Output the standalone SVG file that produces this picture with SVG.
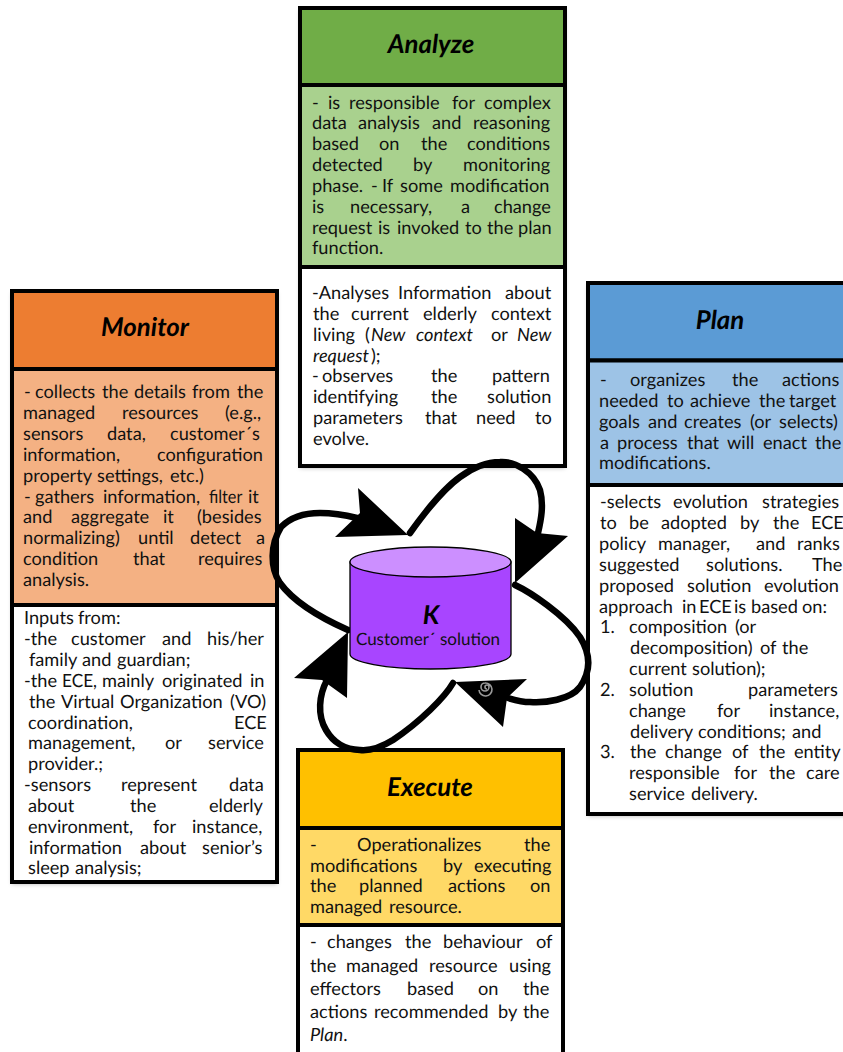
<svg xmlns="http://www.w3.org/2000/svg" width="843" height="1052" viewBox="0 0 843 1052">
<style>
text{font-family:"Lato","Carlito","Noto Sans",sans-serif;font-size:18.2px;fill:#111;text-rendering:geometricPrecision}
.t{font-size:25.8px;font-weight:700;font-style:italic;text-anchor:middle;fill:#000}
.i{font-style:italic}
.box{stroke:#000;stroke-width:4}
.wire{fill:none;stroke:#000;stroke-width:6.500;stroke-linecap:round}
.head{fill:#000}
</style>
<defs><filter id="sh" x="-5%" y="-5%" width="110%" height="110%"><feDropShadow dx="0" dy="2" stdDeviation="2" flood-color="#000" flood-opacity=".3"/></filter></defs>
<rect width="843" height="1052" fill="#fff"/>
<g id="analyze">
<rect x="300" y="8" width="265" height="458" fill="#fff" filter="url(#sh)"/>
<rect class="box" x="300" y="8" width="265" height="77" fill="#70ad47"/>
<rect class="box" x="300" y="85" width="265" height="182" fill="#a9d18e"/>
<rect class="box" x="300" y="267" width="265" height="199" fill="#fff"/>
<text class="t" x="431" y="53">Analyze</text>
<text y="108.500"><tspan x="312">-</tspan> <tspan x="328">is</tspan> <tspan x="349">responsible</tspan> <tspan x="452">for</tspan> <tspan x="484">complex</tspan></text>
<text y="129.300"><tspan x="312">data</tspan> <tspan x="358">analysis</tspan> <tspan x="432">and</tspan> <tspan x="473">reasoning</tspan></text>
<text y="150.200"><tspan x="312">based</tspan> <tspan x="379">on</tspan> <tspan x="421">the</tspan> <tspan x="467">conditions</tspan></text>
<text y="171"><tspan x="312">detected</tspan> <tspan x="413">by</tspan> <tspan x="463">monitoring</tspan></text>
<text y="191.800"><tspan x="312">phase.</tspan> <tspan x="371">-</tspan> <tspan x="382">If</tspan> <tspan x="400">some</tspan> <tspan x="450">modification</tspan></text>
<text y="212.700"><tspan x="312">is</tspan> <tspan x="350">necessary,</tspan> <tspan x="461">a</tspan> <tspan x="494">change</tspan></text>
<text y="233.500"><tspan x="312">request</tspan> <tspan x="378">is</tspan> <tspan x="397">invoked</tspan> <tspan x="465">to</tspan> <tspan x="487">the</tspan> <tspan x="518">plan</tspan></text>
<text y="254.300" x="312">function.</text>
<text y="299"><tspan x="312">-Analyses</tspan> <tspan x="398">Information</tspan> <tspan x="505">about</tspan></text>
<text y="319.800"><tspan x="313">the</tspan> <tspan x="351">current</tspan> <tspan x="423">elderly</tspan> <tspan x="491">context</tspan></text>
<text y="340.700"><tspan x="313">living</tspan> <tspan x="365">(</tspan><tspan class="i" x="371">New</tspan> <tspan class="i" x="416">context</tspan> <tspan x="491">or</tspan> <tspan class="i" x="517">New</tspan></text>
<text y="361.500"><tspan class="i" x="313">request</tspan><tspan x="371">);</tspan></text>
<text y="382.300"><tspan x="312">-</tspan> <tspan x="322">observes</tspan> <tspan x="431">the</tspan> <tspan x="492">pattern</tspan></text>
<text y="403.200"><tspan x="313">identifying</tspan> <tspan x="431">the</tspan> <tspan x="487">solution</tspan></text>
<text y="424"><tspan x="313">parameters</tspan> <tspan x="425">that</tspan> <tspan x="476">need</tspan> <tspan x="535">to</tspan></text>
<text y="444.800" x="313">evolve.</text>
</g>
<g id="monitor">
<rect x="12" y="291" width="265" height="591" fill="#fff" filter="url(#sh)"/>
<rect class="box" x="12" y="291" width="265" height="78" fill="#ed7d31"/>
<rect class="box" x="12" y="369" width="265" height="236" fill="#f4b183"/>
<rect class="box" x="12" y="605" width="265" height="277" fill="#fff"/>
<text class="t" x="145" y="336">Monitor</text>
<text y="398.300"><tspan x="24">-</tspan> <tspan x="35">collects</tspan> <tspan x="102">the</tspan> <tspan x="134">details</tspan> <tspan x="192">from</tspan> <tspan x="237">the</tspan></text>
<text y="419.100"><tspan x="23">managed</tspan> <tspan x="122">resources</tspan> <tspan x="225">(e.g.,</tspan></text>
<text y="440"><tspan x="23">sensors</tspan> <tspan x="107">data,</tspan> <tspan x="170">customer´s</tspan></text>
<text y="460.800"><tspan x="23">information,</tspan> <tspan x="157">configuration</tspan></text>
<text y="481.600"><tspan x="23">property</tspan> <tspan x="97">settings,</tspan> <tspan x="170">etc.)</tspan></text>
<text y="502.500"><tspan x="24">-</tspan> <tspan x="35">gathers</tspan> <tspan x="103">information,</tspan> <tspan x="209" textLength="33" lengthAdjust="spacingAndGlyphs">filter</tspan> <tspan x="248">it</tspan></text>
<text y="523.300"><tspan x="23">and</tspan> <tspan x="71">aggregate</tspan> <tspan x="163">it</tspan> <tspan x="197">(besides</tspan></text>
<text y="544.100"><tspan x="23">normalizing)</tspan> <tspan x="138">until</tspan> <tspan x="190">detect</tspan> <tspan x="256">a</tspan></text>
<text y="565"><tspan x="23">condition</tspan> <tspan x="133">that</tspan> <tspan x="198">requires</tspan></text>
<text y="585.800" x="23">analysis.</text>
<text y="624.300"><tspan x="24">Inputs</tspan> <tspan x="78">from:</tspan></text>
<text y="645.100"><tspan x="24">-the</tspan> <tspan x="71">customer</tspan> <tspan x="162">and</tspan> <tspan x="207">his/her</tspan></text>
<text y="666"><tspan x="29">family</tspan> <tspan x="82">and</tspan> <tspan x="117">guardian;</tspan></text>
<text y="686.800"><tspan x="24">-the</tspan> <tspan x="62" textLength="35" lengthAdjust="spacingAndGlyphs">ECE,</tspan> <tspan x="102">mainly</tspan> <tspan x="162">originated</tspan> <tspan x="250">in</tspan></text>
<text y="707.600"><tspan x="29">the</tspan> <tspan x="61">Virtual</tspan> <tspan x="120">Organization</tspan> <tspan x="230">(VO)</tspan></text>
<text y="728.500"><tspan x="28">coordination,</tspan> <tspan x="234">ECE</tspan></text>
<text y="749.300"><tspan x="28">management,</tspan> <tspan x="165">or</tspan> <tspan x="208">service</tspan></text>
<text y="770.100" x="28">provider.;</text>
<text y="791"><tspan x="24">-sensors</tspan> <tspan x="121">represent</tspan> <tspan x="229">data</tspan></text>
<text y="811.800"><tspan x="28">about</tspan> <tspan x="130">the</tspan> <tspan x="209">elderly</tspan></text>
<text y="832.600"><tspan x="28">environment,</tspan> <tspan x="153">for</tspan> <tspan x="192">instance,</tspan></text>
<text y="853.500"><tspan x="29">information</tspan> <tspan x="140">about</tspan> <tspan x="202">senior’s</tspan></text>
<text y="874.300"><tspan x="28">sleep</tspan> <tspan x="75">analysis;</tspan></text>
</g>
<g id="plan">
<rect x="588" y="283" width="270" height="531" fill="#fff" filter="url(#sh)"/>
<rect class="box" x="588" y="283" width="270" height="77.500" fill="#5b9bd5"/>
<rect class="box" x="588" y="360.500" width="270" height="124.500" fill="#9dc3e6"/>
<rect class="box" x="588" y="485" width="270" height="329" fill="#fff"/>
<text class="t" x="720" y="329">Plan</text>
<text y="386"><tspan x="600">-</tspan> <tspan x="630">organizes</tspan> <tspan x="732">the</tspan> <tspan x="782">actions</tspan></text>
<text y="406.800"><tspan x="599">needed</tspan> <tspan x="667">to</tspan> <tspan x="690">achieve</tspan> <tspan x="759">the</tspan> <tspan x="789">target</tspan></text>
<text y="427.700"><tspan x="599">goals</tspan> <tspan x="648">and</tspan> <tspan x="684">creates</tspan> <tspan x="750">(or</tspan> <tspan x="779">selects)</tspan></text>
<text y="448.500"><tspan x="600">a</tspan> <tspan x="617">process</tspan> <tspan x="687">that</tspan> <tspan x="727">will</tspan> <tspan x="763">enact</tspan> <tspan x="815">the</tspan></text>
<text y="469.300" x="599">modifications.</text>
<text y="508.300"><tspan x="600">-selects</tspan> <tspan x="673">evolution</tspan> <tspan x="762">strategies</tspan></text>
<text y="529.100"><tspan x="600">to</tspan> <tspan x="629">be</tspan> <tspan x="661">adopted</tspan> <tspan x="740">by</tspan> <tspan x="773">the</tspan> <tspan x="811">ECE</tspan></text>
<text y="550"><tspan x="599">policy</tspan> <tspan x="658">manager,</tspan> <tspan x="756">and</tspan> <tspan x="797">ranks</tspan></text>
<text y="570.800"><tspan x="599">suggested</tspan> <tspan x="706">solutions.</tspan> <tspan x="812">The</tspan></text>
<text y="591.600"><tspan x="599">proposed</tspan> <tspan x="687">solution</tspan> <tspan x="764">evolution</tspan></text>
<text y="612.500"><tspan x="599">approach</tspan> <tspan x="682">in</tspan> <tspan x="699">ECE</tspan> <tspan x="734">is</tspan> <tspan x="751">based</tspan> <tspan x="802">on:</tspan></text>
<text y="633.300"><tspan x="600">1.</tspan> <tspan x="629">composition</tspan> <tspan x="735">(or</tspan></text>
<text y="654.100"><tspan x="630">decomposition)</tspan> <tspan x="760">of</tspan> <tspan x="782">the</tspan></text>
<text y="675"><tspan x="629">current</tspan> <tspan x="692">solution);</tspan></text>
<text y="695.800"><tspan x="600">2.</tspan> <tspan x="629">solution</tspan> <tspan x="748">parameters</tspan></text>
<text y="716.600"><tspan x="629">change</tspan> <tspan x="717">for</tspan> <tspan x="769">instance,</tspan></text>
<text y="737.500"><tspan x="630">delivery</tspan> <tspan x="698">conditions;</tspan> <tspan x="792">and</tspan></text>
<text y="758.300"><tspan x="600">3.</tspan> <tspan x="630">the</tspan> <tspan x="665">change</tspan> <tspan x="732">of</tspan> <tspan x="759">the</tspan> <tspan x="794">entity</tspan></text>
<text y="779.100"><tspan x="629">responsible</tspan> <tspan x="734">for</tspan> <tspan x="769">the</tspan> <tspan x="806">care</tspan></text>
<text y="800"><tspan x="629">service</tspan> <tspan x="691">delivery.</tspan></text>
</g>
<g id="execute">
<rect class="box" x="298" y="750" width="265" height="78" fill="#ffc000"/>
<rect class="box" x="298" y="828" width="265" height="97" fill="#ffd966"/>
<rect class="box" x="298" y="925" width="265" height="135" fill="#fff"/>
<text class="t" x="430" y="796">Execute</text>
<text y="850.700"><tspan x="310">-</tspan> <tspan x="357">Operationalizes</tspan> <tspan x="524">the</tspan></text>
<text y="871.500"><tspan x="310">modifications</tspan> <tspan x="443">by</tspan> <tspan x="474">executing</tspan></text>
<text y="892.300"><tspan x="310">the</tspan> <tspan x="359">planned</tspan> <tspan x="448">actions</tspan> <tspan x="530">on</tspan></text>
<text y="913.200"><tspan x="310">managed</tspan> <tspan x="389">resource.</tspan></text>
<text y="948.300"><tspan x="310">-</tspan> <tspan x="327">changes</tspan> <tspan x="405">the</tspan> <tspan x="443">behaviour</tspan> <tspan x="536">of</tspan></text>
<text y="971.700"><tspan x="310">the</tspan> <tspan x="346">managed</tspan> <tspan x="429">resource</tspan> <tspan x="509">using</tspan></text>
<text y="995"><tspan x="310">effectors</tspan> <tspan x="407">based</tspan> <tspan x="478">on</tspan> <tspan x="523">the</tspan></text>
<text y="1017.700"><tspan x="310">actions</tspan> <tspan x="374">recommended</tspan> <tspan x="498">by</tspan> <tspan x="523">the</tspan></text>
<text y="1041"><tspan class="i" x="310">Plan</tspan>.</text>
</g>
<g id="connectors">
<path class="wire" d="M348 630C330 622 296 605 280 583C270 568 270 545 281 527C292 516 308 513 320 513C333 513 345 515 357 518"/>
<polygon class="head" points="408,535 358,488 360,513 335,537"/>
<path class="wire" d="M410 533C425 512 442 490 460 477C475 466 488 462 500 462C515 461 534 472 540 490C544 505 541 520 538 533"/>
<polygon class="head" points="515,583 515,518 537,533 568,536"/>
<path class="wire" d="M515 585C530 592 565 615 580 637C590 653 592 670 580 687C570 700 545 703 530 702C522 702 515 700 508 698"/>
<polygon class="head" points="455,682 527,679 507,698 503,727"/>
<path class="wire" d="M453 683C445 697 420 722 393 740C380 748 370 751 360 750C345 750 333 742 326 730C317 715 319 695 327 680"/>
<polygon class="head" points="348,632 294,678 322,680 347,698"/>
<path d="M487 689a2 2 0 1 1 2-2a4 4 0 1 1-4-4a6.500 6.500 0 1 1-6 7" fill="none" stroke="#999" stroke-width="1.600"/>
</g>
<g id="knowledge">
<path d="M350 562V654A80.500 15 0 0 0 511 654V562Z" fill="#a845ff" stroke="#000" stroke-width="1.300"/>
<ellipse cx="430.500" cy="562" rx="80.500" ry="15" fill="#cc8fff" stroke="#000" stroke-width="1.300"/>
<text class="t" x="431" y="624">K</text>
<text x="428" y="645" text-anchor="middle" style="font-size:17px">Customer´ solution</text>
</g>
</svg>
